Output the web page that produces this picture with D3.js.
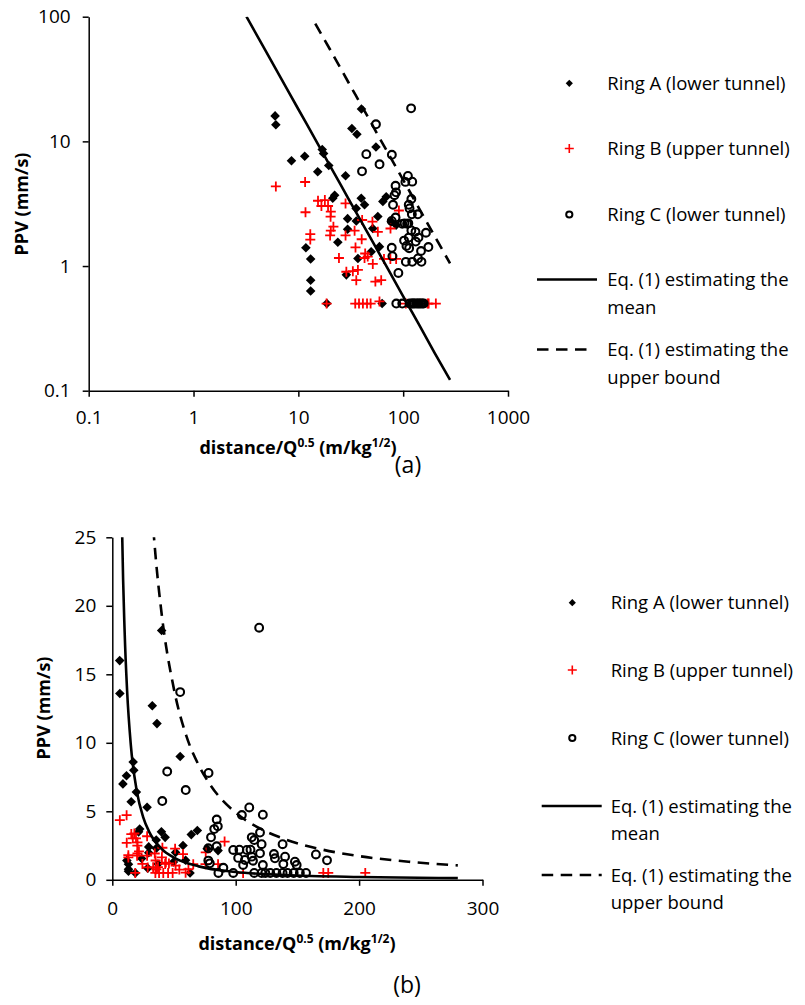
<!DOCTYPE html>
<html><head><meta charset="utf-8">
<script src="https://cdn.jsdelivr.net/npm/d3@7"></script>
<style>
body{margin:0;background:#fff}
text{font-family:'Open Sans',sans-serif;fill:#000}
</style>
</head><body>
<svg id="c" width="805" height="1005"></svg>
<script>
// ---------- data (scaled distance m/kg^0.5, PPV mm/s) ----------
const ringA = [
[6.0,16.0],[6.1,13.6],[8.6,7.0],[11.5,7.6],[16.9,8.6],[17.4,8.0],[15.3,5.7],[19.5,6.4],
[11.8,1.4],[13.1,1.14],[13.1,0.77],[13.1,0.63],[18.7,0.5],[40,18.2],[32.4,12.7],[36.2,11.4],
[55,9.0],[28.2,5.3],[22.2,3.7],[21.3,3.5],[39.8,3.5],[42.8,3.1],[35.6,2.9],[64,3.3],[68.9,3.6],
[29.5,2.4],[57.3,2.5],[35.7,2.3],[76.9,2.27],[85.7,2.13],[29.5,1.97],[51.3,2.0],[23.8,1.55],
[49.5,1.3],[59.4,1.43],[37,1.15],[28.7,0.85],[63,0.5]
];
const ringB = [
[6.1,4.35],[11.6,4.72],[11.7,2.7],[13,1.8],[13,1.63],[15.4,3.34],[17.9,3.38],[16.6,3.03],[19.2,3.03],
[20.4,2.73],[20.3,2.49],[21.6,2.07],[20.4,1.92],[20.1,1.76],[28.2,3.18],[28.2,1.76],[34.4,1.92],
[40.6,2.34],[50.9,2.27],[57.3,1.88],[75.7,2.0],[91,2.79],[40.2,1.64],[35.1,1.41],[24.4,1.16],
[43.4,1.26],[42.8,1.16],[45.9,1.19],[51.3,1.04],[65.6,1.14],[75.5,1.14],[85.7,1.14],[28.7,0.9],
[33.1,0.91],[37,0.93],[35.7,0.77],[54.3,0.75],[61.7,0.77],
[18.6,0.5],[34.9,0.5],[37.9,0.5],[41.3,0.5],[45.2,0.5],[48.9,0.5],[59.4,0.52],[106,0.5],[171,0.5],[175,0.5],[205,0.5]
];
const ringC = [
[119,18.4],[55,13.7],[44.5,7.9],[78,7.8],[59.5,6.55],[40.5,5.75],[105,4.73],[111,5.28],[122,4.75],
[84.6,4.4],[85.5,3.9],[82.6,3.7],[80,3.1],[119.7,3.45],[113,3.1],[115,2.9],[121,2.6],[138,2.6],
[165,1.85],[174,1.42],[77.8,2.3],[84.6,2.45],[98,2.18],[103,2.2],[109,2.18],[112,2.2],[102,1.6],
[113,1.69],[119.7,1.93],[106,1.08],[122,1.08],[131.8,1.57],[140,1.69],[138.6,1.15],[148,1.32],
[149.4,1.08],[107.5,1.45],[114,1.39],[77.8,1.4],[79,1.2],[90,0.88],[131,1.88],
[86,0.5],[98,0.5],[115,0.5],[121,0.5],[124,0.5],[128,0.5],[133,0.5],[138,0.5],[142,0.5],[147,0.5],[152,0.5],[157,0.5]
];
// Eq. (1) curves
const meanLine = [
[3.2,100],[5,51.2],[8,25.3],[10,18.1],[12,13.8],[15,9.85],[20,6.4],[25,4.58],[30,3.48],[40,2.26],
[50,1.62],[70,0.98],[100,0.57],[140,0.345],[200,0.2],[280,0.122]
];
const upperLine = [
[14.5,88],[20,54.8],[25,39.2],[30,29.8],[35,23.7],[40,19.4],[50,13.9],[60,10.5],[70,8.37],[80,6.85],
[100,4.9],[120,3.73],[140,2.96],[170,2.21],[200,1.73],[240,1.32],[280,1.05]
];
const logTicksX = [0.1,1,10,100,1000];
const logTicksY = [0.1,1,10,100];
const linTicksX = [0,100,200,300];
const linTicksY = [0,5,10,15,20,25];
const seriesNames = ["Ring A (lower tunnel)","Ring B (upper tunnel)","Ring C (lower tunnel)"];
const lineNames = [["Eq. (1) estimating the","mean"],["Eq. (1) estimating the","upper bound"]];

const svg = d3.select("#c");

function drawPanel(p){
  const g = svg.append("g");
  const cid = "clip"+p.id;
  svg.append("defs").append("clipPath").attr("id",cid).append("rect")
    .attr("x",p.x.range()[0]).attr("y",p.y.range()[1]-4)
    .attr("width",p.x.range()[1]-p.x.range()[0]+6).attr("height",p.y.range()[0]-p.y.range()[1]+8);
  const lcid = "lclip"+p.id;
  svg.append("defs").append("clipPath").attr("id",lcid).append("rect")
    .attr("x",p.x.range()[0]).attr("y",p.y.range()[1])
    .attr("width",p.x.range()[1]-p.x.range()[0]).attr("height",p.y.range()[0]-p.y.range()[1]);

  const ax = g.append("g").attr("transform",`translate(0,${p.y.range()[0]})`)
    .call(d3.axisBottom(p.x).tickValues(p.xt).tickSize(6).tickSizeOuter(0).tickPadding(p.xpad).tickFormat(d=>String(d)));
  const ay = g.append("g").attr("transform",`translate(${p.x.range()[0]},0)`)
    .call(d3.axisLeft(p.y).tickValues(p.yt).tickSize(6).tickSizeOuter(0).tickPadding(p.ypad).tickFormat(d=>String(d)));
  [ax,ay].forEach(a=>{
    a.selectAll("path,line").attr("stroke","#000").attr("stroke-width",1.5);
    a.selectAll("text").attr("font-family","'Open Sans',sans-serif").attr("font-size",19).attr("fill","#000");
  });

  const pts = g.append("g").attr("clip-path",`url(#${cid})`);
  pts.selectAll("path.a").data(ringA).join("path")
    .attr("d",d3.symbol(d3.symbolSquare,46)())
    .attr("transform",d=>`translate(${p.x(d[0])},${p.y(d[1])}) rotate(45)`).attr("fill","#000");
  pts.selectAll("path.b").data(ringB).join("path")
    .attr("d","M-5,0H5M0,-5V5")
    .attr("transform",d=>`translate(${p.x(d[0])},${p.y(d[1])})`)
    .attr("stroke","#ff0000").attr("stroke-width",1.8).attr("fill","none");
  pts.selectAll("circle").data(ringC).join("circle")
    .attr("cx",d=>p.x(d[0])).attr("cy",d=>p.y(d[1])).attr("r",3.9)
    .attr("fill","none").attr("stroke","#000").attr("stroke-width",2.1);

  const lines = g.append("g").attr("clip-path",`url(#${lcid})`);
  const line = d3.line().x(d=>p.x(d[0])).y(d=>p.y(d[1])).curve(p.curve);
  lines.append("path").datum(meanLine).attr("d",line).attr("fill","none").attr("stroke","#000").attr("stroke-width",2.6);
  lines.append("path").datum(upperLine).attr("d",line).attr("fill","none").attr("stroke","#000").attr("stroke-width",2.6)
    .attr("stroke-dasharray","11.5,7.5");

  // axis titles
  g.append("text").attr("transform",`translate(${p.ytx},${p.yty}) rotate(-90)`)
    .attr("text-anchor","middle").attr("font-weight","bold").attr("font-size",18).text("PPV (mm/s)");
  const xt = g.append("text").attr("x",p.xtx).attr("y",p.xty).attr("text-anchor","middle")
    .attr("font-weight","bold").attr("font-size",18);
  xt.append("tspan").text("distance/Q");
  xt.append("tspan").attr("font-size",12).attr("dy",-7).text("0.5");
  xt.append("tspan").attr("dy",7).text(" (m/kg");
  xt.append("tspan").attr("font-size",12).attr("dy",-7).text("1/2");
  xt.append("tspan").attr("dy",7).text(")");
  g.append("text").attr("x",p.lx).attr("y",p.ly).attr("text-anchor","middle").attr("font-size",23).text(p.label);

  // legend
  const L = p.leg;
  const lg = g.append("g");
  lg.append("path").attr("d",d3.symbol(d3.symbolSquare,26)())
    .attr("transform",`translate(${L.mx},${L.y[0]}) rotate(45)`).attr("fill","#000");
  lg.append("path").attr("d","M-4.5,0H4.5M0,-4.5V4.5").attr("transform",`translate(${L.mx},${L.y[1]})`)
    .attr("stroke","#ff0000").attr("stroke-width",1.6);
  lg.append("circle").attr("cx",L.mx).attr("cy",L.y[2]).attr("r",3.1).attr("fill","none").attr("stroke","#000").attr("stroke-width",2);
  seriesNames.forEach((s,i)=>lg.append("text").attr("x",L.tx).attr("y",L.y[i]).attr("dy","0.36em").attr("font-size",18.5).text(s));
  lg.append("line").attr("x1",L.l0).attr("x2",L.l0+60).attr("y1",L.y[3]).attr("y2",L.y[3]).attr("stroke","#000").attr("stroke-width",2.6);
  lg.append("line").attr("x1",L.l0).attr("x2",L.l0+L.dl).attr("y1",L.y[4]).attr("y2",L.y[4]).attr("stroke","#000").attr("stroke-width",2.6)
    .attr("stroke-dasharray","11.5,7.5");
  lineNames.forEach((ln,i)=>{
    ln.forEach((s,j)=>lg.append("text").attr("x",L.tx).attr("y",L.y[3+i]+j*27.5).attr("dy","0.36em").attr("font-size",18.5).text(s));
  });
}

drawPanel({
  id:"a",
  x:d3.scaleLog().domain([0.1,1000]).range([88.7,508]),
  y:d3.scaleLog().domain([0.1,100]).range([390.7,16.7]),
  xt:logTicksX, yt:logTicksY, xpad:14, ypad:12, curve:d3.curveLinear,
  ytx:28, yty:204, xtx:298, xty:454, lx:408, ly:473, label:"(a)",
  leg:{mx:569.3, tx:607.3, y:[83.3,148.5,214.5,279.5,349.5], l0:537, dl:53}
});
drawPanel({
  id:"b",
  x:d3.scaleLinear().domain([0,300]).range([112.3,482.5]),
  y:d3.scaleLinear().domain([0,25]).range([879.8,537.3]),
  xt:linTicksX, yt:linTicksY, xpad:16, ypad:10, curve:d3.curveMonotoneX,
  ytx:50, yty:708, xtx:297, xty:950, lx:407, ly:993, label:"(b)",
  leg:{mx:572.3, tx:610.7, y:[602.7,670,738,806,875], l0:541.7, dl:60}
});
</script>
</body></html>
